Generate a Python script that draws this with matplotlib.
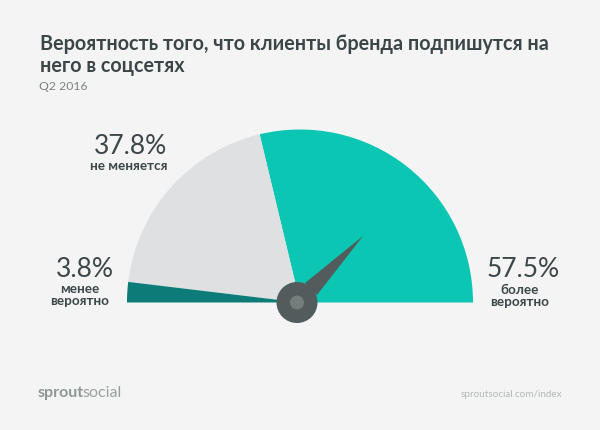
import matplotlib
matplotlib.use("Agg")
import matplotlib.pyplot as plt
from matplotlib.patches import Wedge, Circle, Polygon

# Share of clients, percent
shares = [57.5, 37.8, 3.8]
share_labels = ["57.5%", "37.8%", "3.8%"]
answers = ["более\nвероятно", "не меняется", "менее\nвероятно"]

title = "Вероятность того, что клиенты бренда подпишутся на\nнего в соцсетях"
subtitle = "Q2 2016"
BG = "#f4f4f4"
TEAL = "#0bc6b3"
LIGHT = "#dfe0e2"
DARK = "#0d7c78"
HUB = "#525c5c"
TEXT = "#3c4648"

plt.rcParams["font.family"] = ["Lato", "Open Sans", "DejaVu Sans"]

fig = plt.figure(figsize=(6, 4.31), dpi=100, facecolor=BG)
ax = fig.add_axes([0, 0, 1, 1])
ax.set_xlim(0, 600)
ax.set_ylim(431, 0)  # pixel coordinates, y down
ax.axis("off")

cx, cy, radius = 300, 303.5, 173
deg = 180 / 100

# y axis is flipped, so the angles run negative
teal_end = shares[0] * deg
dark_start = 180 - shares[2] * deg
ax.add_patch(Wedge((cx, cy), radius, -teal_end, 0, fc=TEAL, lw=0))
ax.add_patch(Wedge((cx, cy), radius, -dark_start, -teal_end, fc=LIGHT, lw=0))
ax.add_patch(Wedge((cx, cy), radius, -180, -dark_start, fc=DARK, lw=0))

# needle and hub sit a little left of the arc centre
hub_x, hub_y = 297, 303.5
ax.add_patch(Polygon([(305, 284), (363, 237), (317, 296)], fc=HUB, lw=0))
ax.add_patch(Circle((hub_x, hub_y), 20.5, fc=HUB, lw=0))
ax.add_patch(Circle((hub_x, hub_y), 7, fc="#737d7c", lw=0))

ax.text(40, 55, title, fontsize=14.2, fontweight="bold", color=TEXT,
        va="center", ha="left", linespacing=1.16)
ax.text(39, 86, subtitle, fontsize=8.8, color="#7b8283", va="center", ha="left")

ax.text(130.5, 147, share_labels[1], fontsize=19, color=TEXT, ha="center", va="center")
ax.text(129, 166, answers[1], fontsize=9.7, fontweight="bold", color=TEXT, ha="center", va="center")

ax.text(85, 270, share_labels[2], fontsize=19, color=TEXT, ha="center", va="center")
ax.text(80, 295, answers[2], fontsize=9.7, fontweight="bold", color=TEXT, ha="center", va="center",
        linespacing=1.05)

ax.text(523, 270, share_labels[0], fontsize=19, color=TEXT, ha="center", va="center")
ax.text(520, 296, answers[0], fontsize=9.7, fontweight="bold", color=TEXT, ha="center", va="center",
        linespacing=1.05)

# footer
ax.text(38, 393, "sprout", fontsize=11.5, fontweight="bold", color="#8f9696", ha="left", va="center")
ax.text(82, 393, "social", fontsize=11.5, color="#9aa0a0", ha="left", va="center")
ax.text(562, 395, "sproutsocial.com/index", fontsize=7.1, color="#b4b8b8", ha="right", va="center")

fig.savefig("out.png", dpi=100, facecolor=BG)
